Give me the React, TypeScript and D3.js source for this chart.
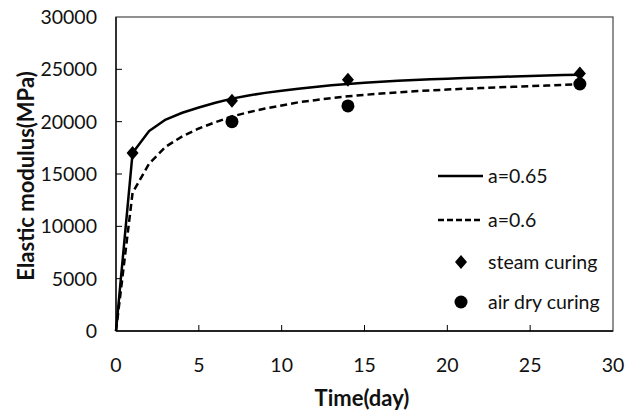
import React from "react";
import * as d3 from "d3";

// Model curves, sampled once per day (day 0 .. 28)
const days = [
  0, 1, 2, 3, 4, 5, 6, 7, 8, 9, 10, 11, 12, 13, 14, 15, 16, 17, 18, 19, 20,
  21, 22, 23, 24, 25, 26, 27, 28,
];
const modelA065 = [
  0, 17000, 19100, 20200, 20850, 21350, 21800, 22200, 22500, 22750, 22950,
  23150, 23320, 23470, 23600, 23710, 23810, 23900, 23980, 24050, 24110, 24170,
  24220, 24270, 24320, 24370, 24410, 24450, 24490,
];
const modelA060 = [
  0, 13200, 16000, 17600, 18600, 19350, 19950, 20500, 20900, 21250, 21550,
  21850, 22050, 22250, 22420, 22560, 22690, 22800, 22900, 22990, 23070, 23140,
  23210, 23270, 23330, 23390, 23450, 23510, 23570,
];

// Measured values
const steamDays = [1, 7, 14, 28];
const steamCuring = [17000, 22000, 24000, 24600];
const airDryDays = [7, 14, 28];
const airDryCuring = [20000, 21500, 23600];

const xTicks = [0, 5, 10, 15, 20, 25, 30];
const yTicks = [0, 5000, 10000, 15000, 20000, 25000, 30000];

const W = 640;
const H = 413;
const plot = { left: 116, right: 613, top: 17, bottom: 331 };
const FONT = "Lato, 'Open Sans', sans-serif";
const LABEL = 19.5;
const TITLE = 22;

export default function App() {
  const x = d3.scaleLinear().domain([0, 30]).range([plot.left, plot.right]);
  const y = d3.scaleLinear().domain([0, 30000]).range([plot.bottom, plot.top]);

  const line = d3
    .line<number>()
    .x((_, i) => x(days[i]))
    .y((d) => y(d));

  const diamond = (cx: number, cy: number) =>
    `M${cx},${cy - 7}L${cx + 6},${cy}L${cx},${cy + 7}L${cx - 6},${cy}Z`;

  const legendX = 438;
  const legendRows = [176, 220, 262, 302];

  return (
    <svg
      width={W}
      height={H}
      style={{ position: "absolute", left: 0, top: 0, background: "#fff" }}
      fontFamily={FONT}
    >
      <rect x={0} y={0} width={W} height={H} fill="#fff" />

      {/* plot frame */}
      <rect
        x={plot.left}
        y={plot.top}
        width={plot.right - plot.left}
        height={plot.bottom - plot.top}
        fill="none"
        stroke="#555"
        strokeWidth={1.3}
      />

      {/* axes */}
      <line x1={plot.left} x2={plot.left} y1={plot.top} y2={plot.bottom} stroke="#000" strokeWidth={1.3} />
      <line x1={plot.left} x2={plot.right} y1={plot.bottom} y2={plot.bottom} stroke="#000" strokeWidth={1.3} />

      {/* y ticks + labels */}
      {yTicks.map((t) => (
        <g key={`y${t}`}>
          {t > 0 && t < 30000 && (
            <line x1={plot.left} x2={plot.left + 6} y1={y(t)} y2={y(t)} stroke="#000" strokeWidth={1} />
          )}
          <text x={97} y={y(t)} dy="0.36em" textAnchor="end" fontSize={LABEL} fill="#111">
            {t}
          </text>
        </g>
      ))}

      {/* x ticks + labels */}
      {xTicks.map((t) => (
        <g key={`x${t}`}>
          {t > 0 && t < 30 && (
            <line x1={x(t)} x2={x(t)} y1={plot.bottom} y2={plot.bottom - 6} stroke="#000" strokeWidth={1} />
          )}
          <text x={x(t)} y={372} textAnchor="middle" fontSize={LABEL} fill="#111">
            {t}
          </text>
        </g>
      ))}

      {/* axis titles */}
      <text x={362} y={406} textAnchor="middle" fontSize={TITLE} fontWeight="bold" fill="#111">
        Time(day)
      </text>
      <text
        transform={`translate(34,${(plot.top + plot.bottom) / 2 + 2}) rotate(-90)`}
        textAnchor="middle"
        fontSize={TITLE}
        fontWeight="bold"
        fill="#111"
      >
        Elastic modulus(MPa)
      </text>

      {/* model curves */}
      <path d={line(modelA065) ?? ""} fill="none" stroke="#000" strokeWidth={2.5} strokeLinejoin="round" />
      <path d={line(modelA060) ?? ""} fill="none" stroke="#000" strokeWidth={2.5} strokeDasharray="7,4" />

      {/* measured points */}
      {steamCuring.map((v, i) => (
        <path key={`s${i}`} d={diamond(x(steamDays[i]), y(v))} fill="#000" />
      ))}
      {airDryCuring.map((v, i) => (
        <circle key={`a${i}`} cx={x(airDryDays[i])} cy={y(v)} r={6.5} fill="#000" />
      ))}

      {/* legend */}
      <line x1={legendX} x2={legendX + 45} y1={legendRows[0]} y2={legendRows[0]} stroke="#000" strokeWidth={2.5} />
      <text x={488} y={legendRows[0]} dy="0.36em" fontSize={LABEL} fill="#111">
        a=0.65
      </text>
      <line
        x1={legendX}
        x2={legendX + 45}
        y1={legendRows[1]}
        y2={legendRows[1]}
        stroke="#000"
        strokeWidth={2.5}
        strokeDasharray="6,3"
      />
      <text x={488} y={legendRows[1]} dy="0.36em" fontSize={LABEL} fill="#111">
        a=0.6
      </text>
      <path d={diamond(461, legendRows[2])} fill="#000" />
      <text x={488} y={legendRows[2]} dy="0.36em" fontSize={LABEL} fill="#111">
        steam curing
      </text>
      <circle cx={461} cy={legendRows[3]} r={6.5} fill="#000" />
      <text x={488} y={legendRows[3]} dy="0.36em" fontSize={LABEL} fill="#111">
        air dry curing
      </text>
    </svg>
  );
}
